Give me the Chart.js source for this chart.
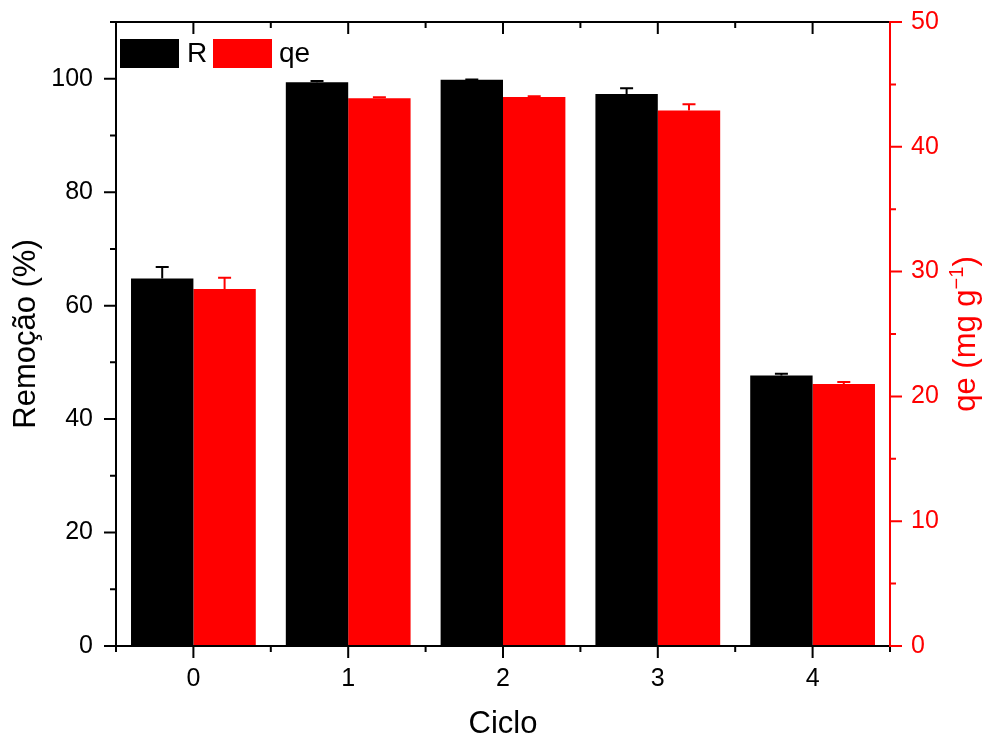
<!DOCTYPE html>
<html>
<head>
<meta charset="utf-8">
<script src="https://cdn.jsdelivr.net/npm/chart.js@4/dist/chart.umd.min.js"></script>
<style>
html,body{margin:0;padding:0;background:#fff;}
#wrap{width:986px;height:733px;position:relative;}
</style>
</head>
<body>
<div id="wrap"><canvas id="c"></canvas></div>
<script>
const categories = ['0', '1', '2', '3', '4'];
const removal = [64.8, 99.4, 99.8, 97.3, 47.7];
const removalErr = [2.0, 0.2, 0.05, 1.0, 0.3];
const qe = [28.6, 43.9, 44.0, 42.9, 21.0];
const qeErr = [0.9, 0.08, 0.05, 0.5, 0.15];
const leftTicks = [0, 20, 40, 60, 80, 100];
const rightTicks = [0, 10, 20, 30, 40, 50];

const FONT = '"Liberation Sans", Arial, sans-serif';
const RED = '#ff0000';

function noPad(s) { s.paddingTop = 0; s.paddingBottom = 0; s.paddingLeft = 0; s.paddingRight = 0; }

const extras = {
  id: 'extras',
  afterDatasetsDraw(chart) {
    const ctx = chart.ctx;
    const sets = [[0, removalErr, '#000'], [1, qeErr, RED]];
    ctx.save();
    sets.forEach(([di, errs, col]) => {
      const meta = chart.getDatasetMeta(di);
      const scale = chart.scales[meta.yAxisID];
      const data = chart.data.datasets[di].data;
      meta.data.forEach((bar, i) => {
        const x = bar.x;
        const yTop = scale.getPixelForValue(data[i] + errs[i]);
        ctx.strokeStyle = col;
        ctx.lineWidth = 2;
        ctx.beginPath();
        ctx.moveTo(x, bar.y);
        ctx.lineTo(x, yTop);
        ctx.moveTo(x - 6.5, yTop);
        ctx.lineTo(x + 6.5, yTop);
        ctx.stroke();
      });
    });
    ctx.restore();
  },
  afterDraw(chart) {
    const ctx = chart.ctx;
    const a = chart.chartArea;
    const y = chart.scales.y, y1 = chart.scales.y1, x = chart.scales.x;
    ctx.save();
    ctx.lineWidth = 2;
    // frame lines
    ctx.strokeStyle = '#000';
    ctx.beginPath();
    ctx.moveTo(a.left, a.bottom); ctx.lineTo(a.left, a.top);
    ctx.moveTo(a.left - 6, a.top); ctx.lineTo(a.right, a.top);
    ctx.moveTo(a.left - 12, a.bottom); ctx.lineTo(a.right, a.bottom);
    // left ticks
    for (let v = 0; v <= 110; v += 10) {
      const py = y.getPixelForValue(v);
      const len = v % 20 === 0 ? 12 : 6;
      ctx.moveTo(a.left - len, py); ctx.lineTo(a.left, py);
    }
    // bottom / top ticks
    const n = categories.length;
    const step = (a.right - a.left) / n;
    for (let k = 0; k <= n; k++) {
      const px = a.left + k * step;
      ctx.moveTo(px, a.bottom); ctx.lineTo(px, a.bottom + 6);
      ctx.moveTo(px, a.top); ctx.lineTo(px, a.top + 6);
    }
    categories.forEach((c, i) => {
      const px = x.getPixelForValue(i);
      ctx.moveTo(px, a.bottom); ctx.lineTo(px, a.bottom + 12);
      ctx.moveTo(px, a.top); ctx.lineTo(px, a.top + 12);
    });
    ctx.stroke();
    // right axis
    ctx.strokeStyle = RED;
    ctx.beginPath();
    ctx.moveTo(a.right, a.bottom + 1); ctx.lineTo(a.right, a.top - 1);
    for (let v = 0; v <= 50; v += 5) {
      const py = y1.getPixelForValue(v);
      const len = v % 10 === 0 ? 12 : 6;
      ctx.moveTo(a.right, py); ctx.lineTo(a.right + len, py);
    }
    ctx.stroke();

    // legend
    ctx.fillStyle = '#000';
    ctx.fillRect(120, 39, 59, 29);
    ctx.fillStyle = RED;
    ctx.fillRect(213, 39, 59, 29);
    ctx.font = '28px ' + FONT;
    ctx.textBaseline = 'middle';
    ctx.textAlign = 'left';
    ctx.fillStyle = '#000';
    ctx.fillText(chart.data.datasets[0].label, 187, 54);
    ctx.fillText(chart.data.datasets[1].label, 279, 54);

    // right title
    const main = 'qe (mg g';
    const sup = '\u22121';
    const close = ')';
    ctx.font = '31px ' + FONT;
    const w1 = ctx.measureText(main).width;
    const w3 = ctx.measureText(close).width;
    ctx.font = '20px ' + FONT;
    const w2 = ctx.measureText(sup).width;
    const total = w1 + w2 + w3;
    const cy = (a.top + a.bottom) / 2;
    ctx.translate(975, cy);
    ctx.rotate(-Math.PI / 2);
    ctx.fillStyle = RED;
    ctx.textBaseline = 'alphabetic';
    let sx = -total / 2;
    ctx.font = '31px ' + FONT;
    ctx.fillText(main, sx, 0);
    sx += w1;
    ctx.font = '20px ' + FONT;
    ctx.fillText(sup, sx, -12);
    sx += w2;
    ctx.font = '31px ' + FONT;
    ctx.fillText(close, sx, 0);
    ctx.restore();
  }
};

new Chart(document.getElementById('c'), {
  type: 'bar',
  data: {
    labels: categories,
    datasets: [
      { label: 'R', data: removal, backgroundColor: '#000', yAxisID: 'y', barPercentage: 1.0, categoryPercentage: 0.806 },
      { label: 'qe', data: qe, backgroundColor: RED, yAxisID: 'y1', barPercentage: 1.0, categoryPercentage: 0.806 }
    ]
  },
  options: {
    responsive: true,
    maintainAspectRatio: false,
    animation: false,
    devicePixelRatio: 1,
    layout: { padding: { top: 22, left: 0, right: 0, bottom: 0 } },
    plugins: { legend: { display: false }, tooltip: { enabled: false } },
    scales: {
      x: {
        offset: true,
        grid: { display: false, drawTicks: false },
        border: { display: false },
        ticks: { color: '#000', font: { size: 25, family: FONT }, padding: 18, maxRotation: 0 },
        title: { display: true, text: 'Ciclo', color: '#000', font: { size: 31, family: FONT }, padding: { top: 0, bottom: -10 } },
        afterFit(s) { s.height = 87; noPad(s); }
      },
      y: {
        position: 'left',
        min: 0, max: 110,
        grid: { display: false, drawTicks: false },
        border: { display: false },
        afterBuildTicks(s) { s.ticks = leftTicks.map(v => ({ value: v })); },
        ticks: { color: '#000', font: { size: 25, family: FONT }, padding: 23 },
        title: { display: true, text: 'Remoção (%)', color: '#000', font: { size: 31, family: FONT }, padding: { top: 8, bottom: 0 } },
        afterFit(s) { s.width = 116; noPad(s); }
      },
      y1: {
        position: 'right',
        min: 0, max: 50,
        grid: { display: false, drawTicks: false },
        border: { display: false },
        afterBuildTicks(s) { s.ticks = rightTicks.map(v => ({ value: v })); },
        ticks: { color: RED, font: { size: 25, family: FONT }, padding: 21 },
        afterFit(s) { s.width = 96; noPad(s); }
      }
    }
  },
  plugins: [extras]
});
</script>
</body>
</html>
